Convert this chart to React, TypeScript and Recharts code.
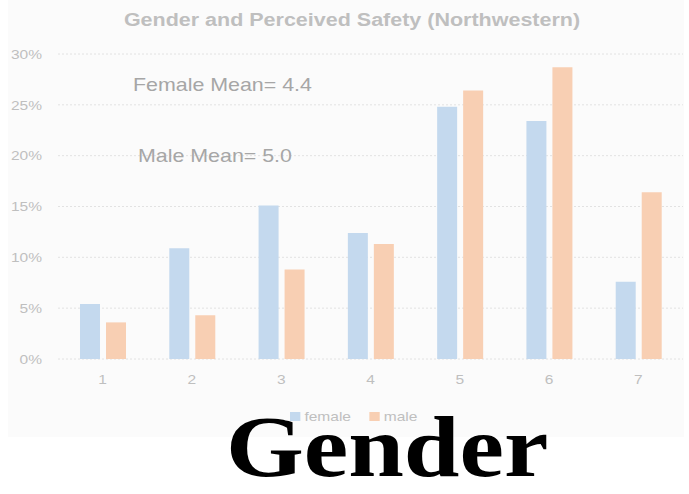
import React from "react";
import {
  BarChart,
  Bar,
  XAxis,
  YAxis,
  CartesianGrid,
  Legend,
} from "recharts";

const categories = ["1", "2", "3", "4", "5", "6", "7"];
const femaleValues = [5.4, 10.9, 15.1, 12.4, 24.8, 23.4, 7.6];
const maleValues = [3.6, 4.3, 8.8, 11.3, 26.4, 28.7, 16.4];
const yTicks = [0, 5, 10, 15, 20, 25, 30];

const FEMALE = "#c4d9ee";
const MALE = "#f8cfb3";
const LABEL = "#bfbfbf";
const STRETCH = 1.15;
const SANS = "'Liberation Sans', Arial, sans-serif";

const chartData = categories.map((name, i) => ({
  name,
  female: femaleValues[i],
  male: maleValues[i],
}));

function XTick({ x, y, payload }: any) {
  return (
    <g transform={`translate(${x},${y}) scale(${STRETCH},1)`}>
      <text x={0} y={0} dy="0.71em" textAnchor="middle" fill={LABEL} fontSize={13.5} fontFamily={SANS}>
        {payload.value}
      </text>
    </g>
  );
}

function YTick({ x, y, payload }: any) {
  return (
    <g transform={`translate(${x},${y}) scale(${STRETCH},1)`}>
      <text x={0} y={0} dy="0.355em" textAnchor="end" fill={LABEL} fontSize={13.5} fontFamily={SANS}>
        {`${payload.value}%`}
      </text>
    </g>
  );
}

function LegendContent() {
  const item = (color: string, label: string, gap: number) => (
    <span style={{ display: "inline-flex", alignItems: "center", marginRight: gap }}>
      <span style={{ width: 8.5, height: 9, background: color, marginRight: 4, display: "inline-block" }} />
      <span>{label}</span>
    </span>
  );
  return (
    <div
      style={{
        display: "flex",
        alignItems: "center",
        whiteSpace: "nowrap",
        color: LABEL,
        fontSize: 13.5,
        fontFamily: SANS,
        transform: `scaleX(${STRETCH})`,
        transformOrigin: "0 0",
      }}
    >
      {item(FEMALE, "female", 16)}
      {item(MALE, "male", 0)}
    </div>
  );
}

const overlay = (left: number, top: number): React.CSSProperties => ({
  position: "absolute",
  left,
  top,
  whiteSpace: "nowrap",
  lineHeight: 1,
  transform: `scaleX(${STRETCH})`,
  transformOrigin: "0 0",
});

export default function App() {
  return (
    <div style={{ position: "absolute", left: 0, top: 0, width: 689, height: 494, background: "#fff", overflow: "hidden" }}>
      <div style={{ position: "absolute", left: 8, top: 0, width: 676, height: 437, background: "#fbfbfb" }}>
        <BarChart
          width={676}
          height={437}
          data={chartData}
          margin={{ top: 54, right: 1, bottom: 48, left: 10 }}
          barSize={20}
          barGap={6}
        >
          <CartesianGrid vertical={false} stroke="#e2e2e2" strokeDasharray="2 2" />
          <XAxis
            dataKey="name"
            height={30}
            axisLine={false}
            tickLine={false}
            tickSize={0}
            tickMargin={15}
            tick={<XTick />}
            interval={0}
          />
          <YAxis
            width={40}
            domain={[0, 30]}
            ticks={yTicks}
            axisLine={false}
            tickLine={false}
            tickSize={0}
            tickMargin={16}
            tick={<YTick />}
          />
          <Legend
            layout="horizontal"
            verticalAlign="middle"
            align="center"
            content={<LegendContent />}
            wrapperStyle={{ left: 282, top: 409, width: "auto", height: "auto" }}
          />
          <Bar dataKey="female" fill={FEMALE} isAnimationActive={false} />
          <Bar dataKey="male" fill={MALE} isAnimationActive={false} />
        </BarChart>
      </div>

      <div
        style={{
          position: "absolute",
          left: 352,
          top: 11,
          whiteSpace: "nowrap",
          lineHeight: 1,
          fontFamily: SANS,
          fontWeight: "bold",
          fontSize: 18.7,
          color: LABEL,
          transform: `translateX(-50%) scaleX(${STRETCH})`,
        }}
      >
        Gender and Perceived Safety (Northwestern)
      </div>

      <div style={{ ...overlay(133, 76), fontFamily: SANS, fontSize: 18.6, color: "#a6a6a6" }}>
        Female Mean= 4.4
      </div>
      <div style={{ ...overlay(138, 147), fontFamily: SANS, fontSize: 18.6, color: "#a6a6a6" }}>
        Male Mean= 5.0
      </div>

      <div
        style={{
          ...overlay(226, 403),
          fontFamily: "'Liberation Serif', 'Times New Roman', serif",
          fontWeight: "bold",
          fontSize: 87,
          color: "#000",
        }}
      >
        Gender
      </div>
    </div>
  );
}
